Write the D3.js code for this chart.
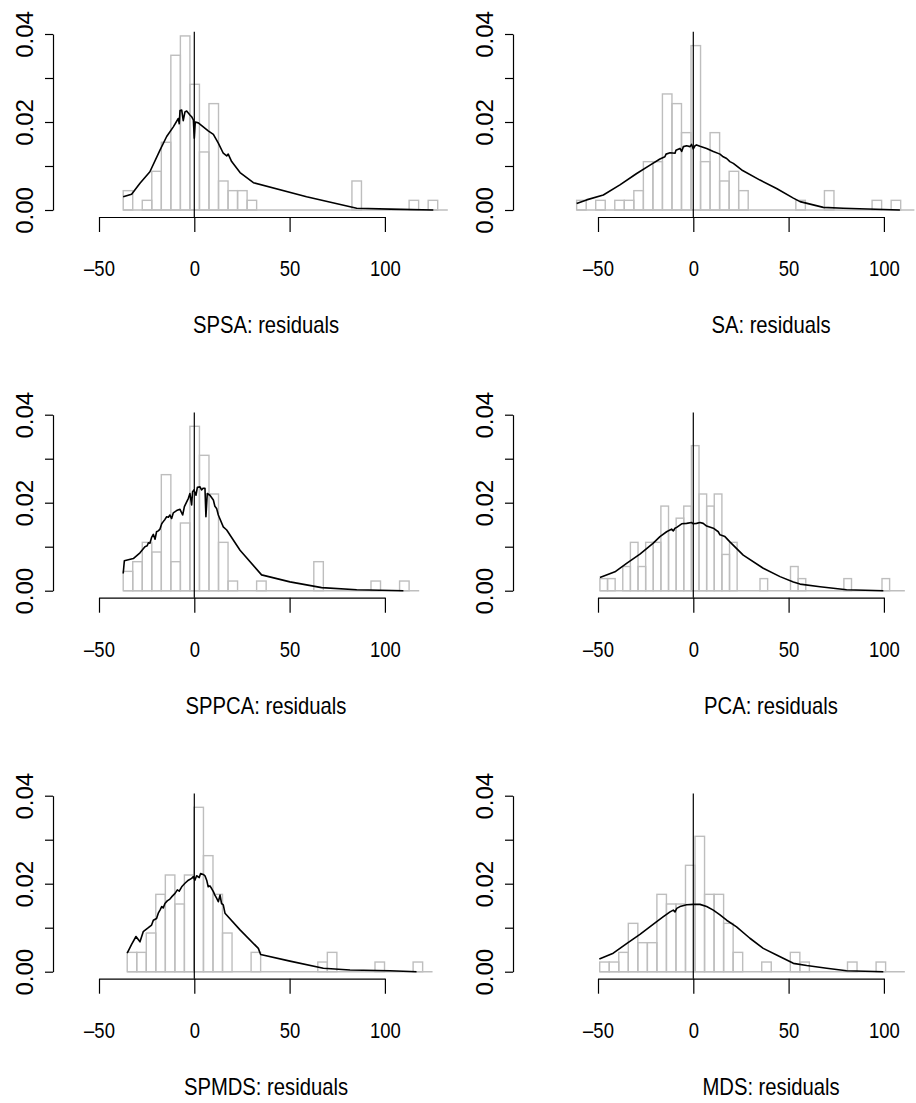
<!DOCTYPE html>
<html>
<head>
<meta charset="utf-8">
<script src="https://cdn.jsdelivr.net/npm/d3@7"></script>
<style>
  body { margin: 0; background: #fff; }
  .xlab { font-family: "Liberation Sans", Arial, sans-serif; font-size: 22px; }
  .title { font-family: "Liberation Sans", Arial, sans-serif; font-size: 23px; }
  .ylab { font-family: "Liberation Sans", Arial, sans-serif; font-size: 24px; }
</style>
</head>
<body>
<svg id="chart" width="916" height="1103"></svg>
<script>
// titles of the six panels, row by row
const titles = ["SPSA: residuals", "SA: residuals", "SPPCA: residuals", "PCA: residuals", "SPMDS: residuals", "MDS: residuals"];

// histogram breaks: first break and bin width, number of residuals
const binStart = [-37.3, -61.2, -37.3, -49, -35.2, -49.1];
const binWidth = [5, 5, 5, 4, 5, 5];
const nObs = 91;
// where the zero line of each histogram stops
const baseEnd = [133, 116, 118, 111, 125, 111];

// bin counts
const countsSPSA  = [2,0,1,4,7,16,18,13,6,11,3,2,2,1,0,0,0,0,0,0,0,0,0,0,3,0,0,0,0,0,1,0,1];
const countsSA    = [1,0,1,0,1,1,2,5,5,12,11,8,17,5,8,3,4,2,0,0,0,0,0,1,0,0,2,0,0,0,0,1,0,1];
const countsSPPCA = [2,3,5,4,12,3,7,17,14,10,5,1,0,0,1,0,0,0,0,0,3,0,0,0,0,0,1,0,0,1];
const countsPCA   = [1,1,0,2,4,2,4,4,7,5,6,7,12,8,7,8,3,4,0,0,0,1,0,0,0,2,1,0,0,0,0,0,1,0,0,0,0,1];
const countsSPMDS = [2,2,4,8,10,7,10,17,12,8,4,0,0,2,0,0,0,0,0,0,1,2,0,0,0,0,1,0,0,0,1];
const countsMDS   = [1,1,2,5,3,3,8,7,7,11,14,8,8,5,2,0,0,1,0,0,2,1,0,0,0,0,1,0,0,1];

// density curves [residual, density]
const densSPSA = [[-37.3,0.0030],[-32.9,0.0036],[-28.5,0.0061],[-23.3,0.0087],[-18.0,0.0136],[-14.5,0.0167],
  [-11.0,0.0189],[-8.4,0.0208],[-7.9,0.0196],[-7.5,0.0226],[-6.6,0.0227],[-5.8,0.0203],[-4.9,0.0223],
  [-4.0,0.0225],[-2.3,0.0216],[-1.4,0.0212],[-0.5,0.0205],[0.0,0.0163],[0.5,0.0200],[2.1,0.0198],
  [4.7,0.0189],[7.3,0.0180],[10.0,0.0172],[12.6,0.0152],[15.2,0.0129],[17.0,0.0123],[17.8,0.0127],
  [19.6,0.0110],[24.0,0.0085],[31.0,0.0062],[58.9,0.0030],[85.2,0.0004],[102.7,0.0002],[125.4,0.0]];
const densSA = [[-61.2,0.0015],[-56.0,0.0023],[-47.2,0.0034],[-38.5,0.0057],[-29.7,0.0083],[-22.7,0.0102],
  [-17.5,0.0116],[-14.9,0.0121],[-14.3,0.0127],[-12.2,0.0130],[-9.6,0.0129],[-9.1,0.0136],[-7.0,0.0140],
  [-6.1,0.0133],[-5.2,0.0144],[-3.5,0.0146],[-1.7,0.0144],[-0.9,0.0149],[0.0,0.0139],[0.9,0.0146],
  [1.7,0.0148],[3.5,0.0145],[7.0,0.0140],[10.5,0.0133],[14.0,0.0127],[15.7,0.0121],[17.5,0.0117],
  [19.2,0.0110],[21.0,0.0106],[25.4,0.0091],[35.0,0.0068],[43.7,0.0049],[52.5,0.0027],[56.0,0.0019],
  [68.2,0.0006],[78.7,0.0004],[108.4,0.0]];
const densSPPCA = [[-37.3,0.0039],[-36.7,0.0068],[-32.0,0.0073],[-28.5,0.0086],[-25.9,0.0100],[-24.7,0.0102],
  [-24.1,0.0109],[-23.3,0.0108],[-22.4,0.0121],[-21.5,0.0128],[-20.6,0.0117],[-19.8,0.0134],[-18.9,0.0136],
  [-18.0,0.0140],[-17.1,0.0152],[-16.3,0.0157],[-15.4,0.0162],[-14.5,0.0168],[-13.6,0.0167],[-12.8,0.0172],
  [-11.9,0.0164],[-11.0,0.0177],[-9.3,0.0182],[-7.5,0.0185],[-6.1,0.0172],[-5.2,0.0191],[-4.0,0.0202],
  [-3.1,0.0210],[-2.3,0.0221],[-1.4,0.0195],[-0.9,0.0225],[-0.2,0.0229],[0.9,0.0217],[1.6,0.0235],
  [3.0,0.0236],[3.8,0.0229],[4.7,0.0233],[5.6,0.0233],[6.1,0.0168],[6.8,0.0221],[8.2,0.0217],
  [10.0,0.0206],[10.8,0.0192],[11.7,0.0187],[12.6,0.0172],[15.2,0.0145],[17.0,0.0138],[24.0,0.0092],
  [35.3,0.0036],[50.2,0.0020],[66.8,0.0007],[85.2,0.0002],[109.7,0.0]];
const densPCA = [[-49.0,0.0030],[-41.1,0.0043],[-35.0,0.0062],[-28.0,0.0083],[-21.0,0.0108],[-17.5,0.0123],
  [-14.0,0.0134],[-11.4,0.0140],[-10.5,0.0136],[-9.6,0.0142],[-8.7,0.0144],[-6.1,0.0152],[-3.5,0.0153],
  [-0.9,0.0155],[0.0,0.0152],[1.7,0.0153],[3.5,0.0155],[5.2,0.0153],[7.0,0.0147],[10.5,0.0142],
  [13.1,0.0134],[14.0,0.0127],[16.6,0.0123],[19.2,0.0111],[26.2,0.0081],[36.7,0.0051],[45.5,0.0032],
  [52.5,0.0020],[56.0,0.0015],[66.5,0.0009],[80.4,0.0002],[99.7,0.0]];
const densSPMDS = [[-35.2,0.0042],[-32.9,0.0062],[-30.6,0.0080],[-28.5,0.0068],[-26.8,0.0091],[-24.1,0.0100],
  [-22.4,0.0106],[-21.5,0.0117],[-19.8,0.0121],[-18.9,0.0133],[-18.0,0.0140],[-17.1,0.0148],[-16.3,0.0145],
  [-15.4,0.0155],[-14.2,0.0161],[-12.8,0.0165],[-11.9,0.0170],[-10.1,0.0178],[-8.9,0.0186],[-7.9,0.0183],
  [-6.6,0.0193],[-4.9,0.0201],[-3.1,0.0208],[-1.4,0.0212],[-0.5,0.0216],[0.3,0.0208],[1.2,0.0218],
  [2.6,0.0214],[3.3,0.0223],[4.7,0.0221],[5.6,0.0218],[6.5,0.0208],[7.3,0.0193],[8.2,0.0195],
  [9.1,0.0189],[10.0,0.0182],[10.8,0.0174],[11.7,0.0167],[12.6,0.0159],[13.5,0.0174],[14.3,0.0155],
  [15.2,0.0152],[16.1,0.0133],[24.0,0.0095],[33.6,0.0053],[34.8,0.0039],[50.2,0.0024],[67.7,0.0008],
  [81.7,0.0004],[102.7,0.0002],[116.6,0.0]];
const densMDS = [[-49.3,0.0029],[-42.0,0.0042],[-35.0,0.0064],[-28.0,0.0085],[-19.2,0.0114],[-15.7,0.0125],
  [-12.2,0.0136],[-10.5,0.0140],[-9.6,0.0136],[-8.7,0.0144],[-7.0,0.0148],[-3.5,0.0152],[0.0,0.0153],
  [3.5,0.0153],[7.0,0.0148],[10.5,0.0140],[14.0,0.0129],[17.5,0.0117],[22.7,0.0102],[29.7,0.0076],
  [36.7,0.0053],[43.7,0.0038],[52.5,0.0019],[59.5,0.0014],[70.0,0.0008],[80.4,0.0002],[99.7,0.0]];

const xTicks = [-50, 0, 50, 100];
const yTicks = [0, 0.01, 0.02, 0.03, 0.04];

const allCounts = [countsSPSA, countsSA, countsSPPCA, countsPCA, countsSPMDS, countsMDS];
const allDens = [densSPSA, densSA, densSPPCA, densPCA, densSPMDS, densMDS];

// layout of the 3x2 grid
const zeroX = [194.3, 693.3];     // pixel of residual 0 in each column
const axisX = [53, 513];          // y axis position in each column
const titleX = [266, 771];
const rowBase = [210, 590.7, 971.7];
const unitPx = 1.906;
const yPx = 176;
const gray = "#bebebe";

const svg = d3.select("#chart");

titles.forEach((title, i) => {
  const col = i % 2, row = Math.floor(i / 2);
  const x = d3.scaleLinear().domain([-50, 100])
    .range([zeroX[col] - 50 * unitPx, zeroX[col] + 100 * unitPx]);
  const base = rowBase[row];
  const y = d3.scaleLinear().domain([0, 0.04]).range([base, base - yPx]);
  const axisY = base + 7;
  const g = svg.append("g");

  const bins = allCounts[i].map((c, k) => ({
    x0: binStart[i] + k * binWidth[i],
    x1: binStart[i] + (k + 1) * binWidth[i],
    d: c / (nObs * binWidth[i])
  }));

  // zero line of the histogram
  g.append("line")
    .attr("x1", x(binStart[i])).attr("x2", x(baseEnd[i]))
    .attr("y1", y(0)).attr("y2", y(0))
    .attr("stroke", gray).attr("stroke-width", 1.4);

  g.selectAll("rect.bar")
    .data(bins.filter(b => b.d > 0))
    .join("rect")
    .attr("class", "bar")
    .attr("x", b => x(b.x0))
    .attr("width", b => x(b.x1) - x(b.x0))
    .attr("y", b => y(b.d))
    .attr("height", b => y(0) - y(b.d))
    .attr("fill", "none")
    .attr("stroke", gray)
    .attr("stroke-width", 1.4);

  // vertical line at zero
  g.append("line")
    .attr("x1", x(0)).attr("x2", x(0))
    .attr("y1", y(0.0405)).attr("y2", axisY)
    .attr("stroke", "#000").attr("stroke-width", 1.2);

  // density
  g.append("path")
    .datum(allDens[i])
    .attr("d", d3.line().x(d => x(d[0])).y(d => y(d[1])))
    .attr("fill", "none")
    .attr("stroke", "#000")
    .attr("stroke-width", 1.6)
    .attr("stroke-linejoin", "round");

  // x axis
  const xa = g.append("g")
    .attr("transform", "translate(0," + axisY + ")")
    .call(d3.axisBottom(x).tickValues(xTicks).tickSize(15).tickSizeOuter(0)
      .tickFormat(d => d < 0 ? "\u2013" + Math.abs(d) : d));
  xa.attr("font-family", null).attr("font-size", null);
  xa.select(".domain").attr("stroke-width", 1.2);
  xa.selectAll(".tick line").attr("stroke-width", 1.2);
  xa.selectAll(".tick text")
    .attr("class", "xlab")
    .attr("y", 0).attr("dy", 0)
    .attr("transform", "translate(0,59) scale(0.84,1)");

  // y axis
  const ya = g.append("g")
    .attr("transform", "translate(" + axisX[col] + ",0)")
    .call(d3.axisLeft(y).tickValues(yTicks).tickSize(8).tickSizeOuter(0)
      .tickFormat(d => Math.round(d * 100) % 2 === 0 ? d3.format(".2f")(d) : ""));
  ya.attr("font-family", null).attr("font-size", null);
  ya.select(".domain").attr("stroke-width", 1.2);
  ya.selectAll(".tick line").attr("stroke-width", 1.2);
  ya.selectAll(".tick text")
    .attr("class", "ylab")
    .attr("x", 0).attr("dy", 0)
    .attr("text-anchor", "middle")
    .attr("transform", "translate(-20,0) rotate(-90)");

  // panel label under the axis
  g.append("text")
    .attr("class", "title")
    .attr("text-anchor", "middle")
    .attr("transform", "translate(" + titleX[col] + "," + (axisY + 116) + ") scale(0.88,1)")
    .text(title);
});
</script>
</body>
</html>
